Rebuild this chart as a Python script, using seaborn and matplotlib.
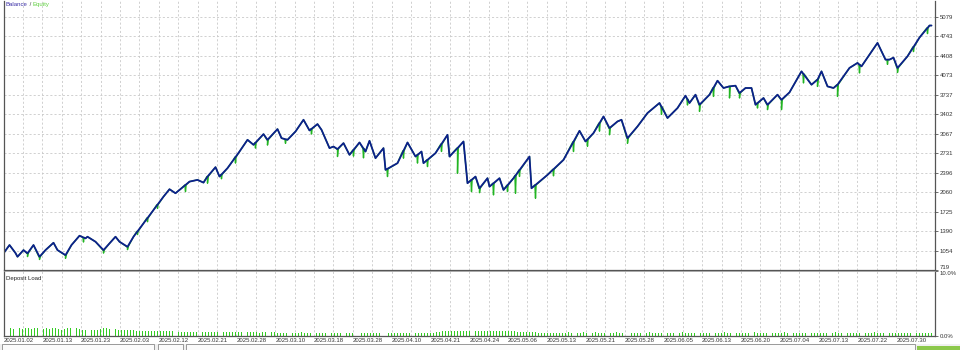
import numpy as np
import pandas as pd
import matplotlib
matplotlib.use("Agg")
import matplotlib.pyplot as plt
import seaborn as sns
from matplotlib.offsetbox import TextArea, HPacker, AnchoredOffsetbox
from matplotlib.patches import Rectangle

# ---------------- data ----------------
balance_trade = [0, 3, 6, 7, 10, 12, 15, 18, 21, 25, 27, 31, 34, 38, 41, 42, 46, 50, 53, 56,
                 58, 62, 65, 70, 75, 80, 83, 86, 89, 93, 97, 100, 102, 106, 108, 112, 115, 118, 122, 125,
                 130, 132, 137, 139, 142, 146, 150, 153, 157, 159, 163, 165, 167, 170, 173, 178, 181, 183, 186, 190,
                 191, 197, 202, 206, 209, 210, 216, 222, 223, 227, 230, 232, 236, 238, 242, 243, 248, 250, 255, 263,
                 264, 272, 280, 288, 291, 295, 300, 303, 307, 309, 312, 317, 322, 328, 332, 337, 341, 343, 346, 348,
                 353, 357, 360, 363, 366, 368, 371, 374, 376, 380, 382, 387, 389, 393, 399, 404, 407, 409, 412, 415,
                 417, 423, 427, 429, 437, 441, 443, 445, 447, 452, 458, 463, 464]
balance_value = [1006, 1149, 1011, 947, 1062, 1006, 1149, 947, 1062, 1188, 1062, 976, 1149, 1309, 1264, 1292, 1206, 1062, 1178, 1292,
                 1206, 1119, 1292, 1523, 1753, 1982, 2110, 2041, 2127, 2241, 2271, 2224, 2328, 2490, 2328, 2473, 2616, 2759, 2961, 2875,
                 3059, 2961, 3146, 2990, 2961, 3104, 3306, 3122, 3232, 3134, 2818, 2845, 2801, 2904, 2702, 2915, 2759, 2944, 2645, 2818,
                 2443, 2559, 2915, 2673, 2759, 2559, 2732, 3047, 2673, 2818, 2932, 2214, 2328, 2127, 2300, 2155, 2300, 2098, 2300, 2673,
                 2127, 2357, 2616, 3116, 2932, 3077, 3363, 3163, 3277, 3306, 2990, 3191, 3422, 3595, 3336, 3508, 3721, 3595, 3738, 3565,
                 3738, 3979, 3853, 3881, 3893, 3767, 3853, 3853, 3565, 3681, 3565, 3738, 3651, 3778, 4140, 3910, 3997, 4140, 3881, 3853,
                 3910, 4199, 4285, 4226, 4630, 4342, 4342, 4376, 4199, 4399, 4722, 4929, 4929]

spike_trade = [12, 18, 31, 40, 50, 62, 67, 72, 77, 91, 102, 109, 116, 126, 132, 141, 154, 167, 175, 180,
               192, 200, 207, 212, 219, 227, 234, 238, 245, 252, 256, 258, 266, 275, 285, 292, 298, 303, 312, 329,
               342, 348, 355, 363, 368, 377, 382, 389, 400, 407, 417, 428, 442, 447, 455, 462]
spike_top = [1006, 947, 976, 1280, 1062, 1119, 1384, 1615, 1845, 2184, 2328, 2364, 2664, 2912, 2961, 2970, 3150, 2801, 2787, 2811,
             2462, 2773, 2702, 2617, 2890, 2818, 2271, 2127, 2213, 2179, 2347, 2440, 2185, 2454, 2928, 2968, 3249, 3163, 2990, 3530,
             3658, 3565, 3858, 3881, 3767, 3594, 3565, 3651, 4094, 3997, 3910, 4255, 4342, 4199, 4561, 4888]
spike_low = [950, 900, 920, 1200, 1010, 1070, 1330, 1550, 1780, 2070, 2214, 2290, 2560, 2818, 2870, 2900, 3060, 2673, 2680, 2650,
             2328, 2645, 2560, 2500, 2760, 2386, 2069, 2050, 2012, 2069, 2041, 2330, 1955, 2340, 2759, 2850, 3110, 3047, 2900, 3400,
             3560, 3450, 3708, 3681, 3681, 3508, 3480, 3480, 3940, 3880, 3708, 4112, 4260, 4120, 4480, 4790]

deposit_load = [
    1.1, 0, 1.2, 1.1, 0, 1.2, 1.1, 1.2, 1.2, 1.1, 1.2, 1.2, 0, 1.1, 1.2, 1.1, 1.2, 1.3, 1.1, 1.0,
    1.1, 1.2, 1.2, 0, 1.2, 1.1, 1.0, 0.9, 0, 0.9, 1.0, 0.9, 1.1, 1.2, 1.2, 1.1, 0, 1.1, 1.0, 1.0,
    0.9, 0.9, 0.9, 0.9, 0.8, 0.8, 0.8, 0.8, 0.8, 0.8,
    0.8, 0.7, 0.7, 0.7, 0.7, 0.7, 0.7, 0, 0.6, 0.6, 0.6, 0.6, 0.6, 0.6, 0.6, 0, 0.6, 0.6, 0.6, 0.6,
    0.6, 0.6, 0, 0.6, 0.6, 0.6, 0.6, 0.6, 0.6, 0.6, 0, 0.6, 0.6, 0.6, 0.6, 0.5, 0.6, 0.6, 0, 0.6,
    0.6, 0.5, 0.5, 0.5, 0.5, 0, 0.5, 0.5, 0.5, 0.6, 0.5, 0.5, 0.5, 0, 0.5, 0.5, 0.5,
    0.5, 0, 0.5, 0.5, 0.5, 0.5, 0, 0.5, 0.5, 0.5, 0, 0, 0.5, 0.5, 0.5, 0.5, 0.5, 0.5, 0.5, 0,
    0, 0.5, 0.5, 0.5, 0.5, 0.5, 0.5, 0.5, 0.5, 0, 0.5, 0.5, 0.5, 0.5, 0.5, 0.5, 0.5, 0.6, 0.6, 0.7,
    0.7, 0.7, 0.8,
    0.8, 0.8, 0.7, 0.8, 0.8, 0.8, 0, 0.7, 0.8, 0.8, 0.8, 0.7, 0.7, 0.7, 0.8, 0.8, 0.7, 0.7, 0.8, 0.7,
    0.7, 0.6, 0.6, 0.6, 0.6, 0.6, 0.6, 0.6, 0.5, 0.5, 0.5, 0.5, 0.5, 0.5, 0.5, 0.5, 0.5,
    0.5, 0.6, 0.5, 0, 0.5, 0.5, 0.6, 0.5, 0, 0.5, 0.6, 0.5, 0.5, 0.5, 0, 0.5, 0.5, 0.6, 0.5, 0.5,
    0, 0, 0.5, 0.5, 0.5, 0.5, 0, 0.5, 0.6, 0.5, 0.5, 0.5, 0.5, 0, 0.5, 0.5, 0.5, 0, 0.5, 0.6,
    0.5, 0.5, 0.5, 0.5, 0, 0.5, 0.5, 0.5, 0.5, 0, 0.5, 0.5, 0.5, 0.6, 0.5, 0.5, 0, 0.5, 0.5, 0.5,
    0.5, 0.5, 0, 0.6, 0.5, 0.5, 0.5, 0.5, 0, 0.5, 0.5, 0.5, 0.5, 0.6, 0.5, 0, 0.5, 0.5, 0.5, 0.5,
    0.5, 0, 0.5, 0.5, 0.5, 0.5, 0.5, 0.5, 0, 0.5, 0.6, 0.5, 0.5, 0, 0.5, 0.5, 0.5, 0.5, 0.5, 0,
    0.5, 0.5, 0.5, 0.6, 0.5, 0.5, 0.5, 0, 0.5, 0.5, 0.5, 0.5, 0.5, 0.5, 0.5, 0.5, 0, 0.5, 0.5, 0.5,
    0.5, 0.5, 0.5]

y_ticks = [719, 1054, 1390, 1725, 2060, 2396, 2731, 3067, 3402, 3737, 4073, 4408, 4743, 5079]
date_labels = ["2025.01.02", "2025.01.13", "2025.01.23", "2025.02.03", "2025.02.12", "2025.02.21",
               "2025.02.28", "2025.03.10", "2025.03.18", "2025.03.28", "2025.04.10", "2025.04.21",
               "2025.04.24", "2025.05.06", "2025.05.13", "2025.05.21", "2025.05.28", "2025.06.05",
               "2025.06.13", "2025.06.20", "2025.07.04", "2025.07.13", "2025.07.22", "2025.07.30"]

# ---------------- build frames ----------------
bal = pd.DataFrame({"trade": balance_trade, "value": balance_value})
sp_t = np.array(spike_trade, dtype=float)
eq = pd.concat([
    bal.assign(o=1),
    pd.DataFrame({"trade": sp_t - 0.3, "value": spike_top, "o": 0}),
    pd.DataFrame({"trade": sp_t, "value": spike_low, "o": 2}),
    pd.DataFrame({"trade": sp_t + 0.3, "value": spike_top, "o": 3}),
]).sort_values(["trade", "o"], kind="stable").reset_index(drop=True)

# ---------------- style ----------------
sns.set_style("white")
plt.rcParams["font.family"] = ["Liberation Sans", "DejaVu Sans"]

BAL_C = "#0d1f8c"
EQ_C = "#22b522"
GRID_C = "#c9c9c9"
SPINE_C = "#555555"
TXT_C = "#333333"
FS = 4.3

W, H = 960, 350
fig = plt.figure(figsize=(W / 100, H / 100), dpi=100)
fig.patch.set_facecolor("white")

x0, x1 = 3.5, 935.0
XMAX = 465.75
ax = fig.add_axes([x0 / W, 1 - 270 / H, (x1 - x0) / W, 269.5 / H])
ax2 = fig.add_axes([x0 / W, 1 - 336 / H, (x1 - x0) / W, 65 / H])

YMIN, YMAX = 719, 5360

# equity (green) then balance (navy)
sns.lineplot(data=eq, x="trade", y="value", sort=False, estimator=None, ax=ax,
             color=EQ_C, linewidth=1.0, legend=False)
sns.lineplot(data=bal, x="trade", y="value", sort=False, estimator=None, ax=ax,
             color=BAL_C, linewidth=1.3, legend=False)

ax.set_xlim(0, XMAX)
ax.set_ylim(YMIN, YMAX)
ax.set_xlabel("")
ax.set_ylabel("")

grid_step = XMAX / 48
vgrid = [grid_step * k for k in range(1, 48)]
for a in (ax, ax2):
    for gx in vgrid:
        a.axvline(gx, color=GRID_C, lw=0.6, ls=(0, (2.5, 2.5)), zorder=0)
for gy in y_ticks[1:]:
    ax.axhline(gy, color=GRID_C, lw=0.6, ls=(0, (2.5, 2.5)), zorder=0)

ax.yaxis.tick_right()
ax.set_yticks(y_ticks)
ax.set_yticklabels([str(v) for v in y_ticks])
ax.tick_params(axis="y", right=True, length=2, width=0.6, color=SPINE_C, pad=1.5,
               labelsize=FS, labelcolor=TXT_C)
ax.get_yticklabels()[0].set_verticalalignment("bottom")
ax.set_xticks([])
for side in ("left", "bottom", "right"):
    ax.spines[side].set_color(SPINE_C)
    ax.spines[side].set_linewidth(0.9)
ax.spines["top"].set_visible(False)

# legend-like title
parts = [TextArea("Balance", textprops=dict(color="#3b2fa6", fontsize=FS)),
         TextArea(" / ", textprops=dict(color="#444444", fontsize=FS)),
         TextArea("Equity", textprops=dict(color="#5fcf3f", fontsize=FS))]
box = HPacker(children=parts, align="baseline", pad=0, sep=0)
anch = AnchoredOffsetbox(loc="upper left", child=box, pad=0, frameon=False,
                         bbox_to_anchor=(6 / W, 1 - 2 / H), bbox_transform=fig.transFigure,
                         borderpad=0)
fig.add_artist(anch)

# deposit load panel
load_x = [1.5 * k + 0.5 for k in range(len(deposit_load))]
ax2.bar(load_x, deposit_load, width=0.55, color="#33cc22", linewidth=0, zorder=2)
ax2.set_xlim(0, XMAX)
ax2.set_ylim(0, 10)
ax2.yaxis.tick_right()
ax2.set_yticks([0, 10])
ax2.set_yticklabels(["0.0%", "10.0%"])
ax2.tick_params(axis="y", right=True, length=2, width=0.6, color=SPINE_C, pad=1.5,
                labelsize=FS, labelcolor=TXT_C)
ax2.get_yticklabels()[1].set_verticalalignment("top")
ax2.set_xticks([grid_step * 2 * i for i in range(len(date_labels))])
ax2.set_xticklabels(date_labels, ha="left")
ax2.tick_params(axis="x", length=0, pad=1.8, labelsize=FS, labelcolor=TXT_C)
for side in ("left", "bottom", "right"):
    ax2.spines[side].set_color(SPINE_C)
    ax2.spines[side].set_linewidth(0.9)
ax2.spines["top"].set_color("#9a9a9a")
ax2.spines["top"].set_linewidth(0.6)
ax2.text(3 / (x1 - x0), 0.93, "Deposit Load", transform=ax2.transAxes, fontsize=FS,
         color="#222222", va="top", ha="left")

# window strip at the very bottom
fig.add_artist(Rectangle((0, 0), 1, 6 / H, transform=fig.transFigure,
                         facecolor="#f0f0f0", edgecolor="none"))
for bx0, bx1 in [(2, 154), (158, 183), (186, 915)]:
    fig.add_artist(Rectangle((bx0 / W, 0), (bx1 - bx0) / W, 6 / H, transform=fig.transFigure,
                             facecolor="#fbfbfb", edgecolor="#8a8a8a", linewidth=0.6))
fig.add_artist(Rectangle((917 / W, 0), 43 / W, 4 / H, transform=fig.transFigure,
                         facecolor="#8cc84b", edgecolor="none"))

fig.savefig("out.png", dpi=100)
